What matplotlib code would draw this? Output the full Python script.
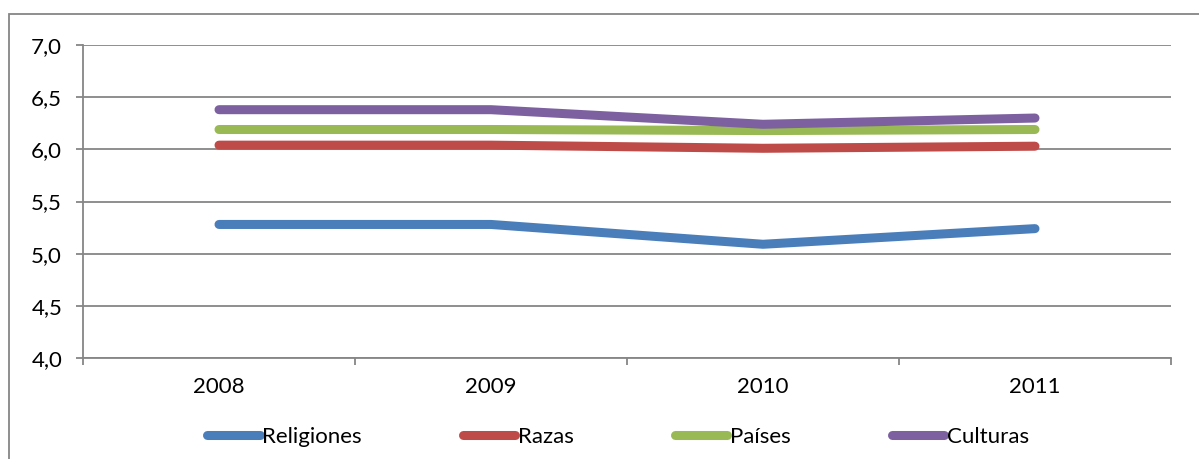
import matplotlib.pyplot as plt
from matplotlib.patches import Rectangle

years = ['2008', '2009', '2010', '2011']
religiones = [5.28, 5.28, 5.09, 5.24]
razas = [6.04, 6.04, 6.01, 6.03]
paises = [6.19, 6.19, 6.18, 6.19]
culturas = [6.38, 6.38, 6.24, 6.30]

series = [
    ('Religiones', religiones, '#4A7EBB'),
    ('Razas', razas, '#BE4B48'),
    ('Países', paises, '#98B954'),
    ('Culturas', culturas, '#7D60A0'),
]

plt.rcParams['font.family'] = ['Lato', 'DejaVu Sans']
grid_c = '#868686'
fs = 16

fig = plt.figure(figsize=(11.99, 4.59), dpi=100)
W, H = 1199, 459
# outer chart border (only top and left visible)
fig.patches.append(Rectangle((9 / W, -0.1), 1.2, (H - 14) / H + 0.1,
                             transform=fig.transFigure, fill=False,
                             edgecolor=grid_c, lw=1.3))

ax = fig.add_axes([83 / W, 101 / H, (1171 - 83) / W, (358 - 45) / H])

x = range(len(years))
for name, vals, col in series:
    ax.plot(x, vals, color=col, lw=6.5, solid_capstyle='round',
            solid_joinstyle='round', label=name)

ax.set_xlim(-0.5, 3.5)
ax.set_ylim(4.0, 7.0)
yt = [4.0, 4.5, 5.0, 5.5, 6.0, 6.5, 7.0]
ax.set_yticks(yt)
ax.set_yticklabels([f'{v:.1f}'.replace('.', ',') for v in yt])
ax.set_xticks(list(x))
ax.set_xticklabels(years)
ax.set_xticks([-0.5, 0.5, 1.5, 2.5, 3.5], minor=True)

ax.yaxis.grid(True, color=grid_c, lw=1.3)
ax.set_axisbelow(True)
for s in ['top', 'right']:
    ax.spines[s].set_visible(False)
for s in ['left', 'bottom']:
    ax.spines[s].set_color(grid_c)
    ax.spines[s].set_linewidth(1.3)

ax.tick_params(axis='y', length=5, width=1.3, color=grid_c, pad=10,
               labelsize=fs)
ax.tick_params(axis='x', which='major', length=0, pad=14, labelsize=fs)
ax.tick_params(axis='x', which='minor', length=5, width=1.3, color=grid_c,
               direction='out')

ax.legend(loc='center', bbox_to_anchor=(618 / W, 22 / H),
          bbox_transform=fig.transFigure, ncol=4, frameon=False,
          fontsize=fs, handlelength=2.35, handletextpad=0.12,
          columnspacing=4.55)

fig.savefig('out.png', dpi=100)
